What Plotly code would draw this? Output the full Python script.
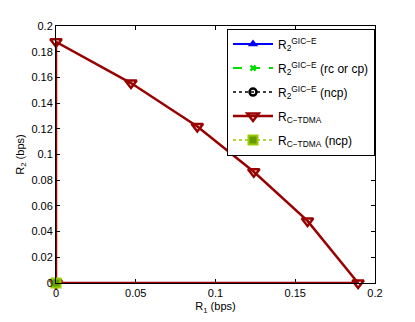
import plotly.graph_objects as go

# Data
tdma_r1 = [0.0, 0.0, 0.047, 0.0886, 0.124, 0.1577, 0.1894, 0.0]
tdma_r2 = [0.0, 0.1877, 0.1556, 0.1218, 0.0866, 0.0483, 0.0, 0.0]
gic_r1 = [0.0]
gic_r2 = [0.0]
x_ticks = [0, 0.05, 0.1, 0.15, 0.2]
x_labels = ["0", "0.05", "0.1", "0.15", "0.2"]
y_ticks = [0, 0.02, 0.04, 0.06, 0.08, 0.1, 0.12, 0.14, 0.16, 0.18, 0.2]
y_labels = ["0", "0.02", "0.04", "0.06", "0.08", "0.1", "0.12", "0.14", "0.16", "0.18", "0.2"]

red = "#990000"
fig = go.Figure()
fig.add_trace(go.Scatter(x=gic_r1, y=gic_r2, mode="lines+markers", legendgroup="a",
                         name="R<sub>2</sub><sup>GIC−E</sup>", cliponaxis=False,
                         line=dict(color="#0000ff", width=2),
                         marker=dict(symbol="triangle-up", size=9, color="#0000ff")))
fig.add_trace(go.Scatter(x=gic_r1, y=gic_r2, mode="lines+markers", legendgroup="b",
                         name="R<sub>2</sub><sup>GIC−E</sup> (rc or cp)", cliponaxis=False,
                         line=dict(color="#00dd00", width=2, dash="dash"),
                         marker=dict(symbol="x", size=6, color="#00dd00")))
fig.add_trace(go.Scatter(x=gic_r1, y=gic_r2, mode="lines+markers", legendgroup="c",
                         name="R<sub>2</sub><sup>GIC−E</sup> (ncp)", cliponaxis=False,
                         line=dict(color="black", width=1.5, dash="dot"),
                         marker=dict(symbol="circle-open", size=7, color="black", line=dict(width=2.5))))
fig.add_trace(go.Scatter(x=tdma_r1, y=tdma_r2, mode="lines+markers", legendgroup="d",
                         name="R<sub>C−TDMA</sub>", cliponaxis=False,
                         line=dict(color=red, width=2.5),
                         marker=dict(symbol="triangle-down-open", size=10, color=red, line=dict(width=2.5))))
fig.add_trace(go.Scatter(x=gic_r1, y=gic_r2, mode="lines+markers", legendgroup="e",
                         name="R<sub>C−TDMA</sub> (ncp)", cliponaxis=False,
                         line=dict(color="#99cc00", width=1.5, dash="dot"),
                         marker=dict(symbol="square", size=9, color="#669900",
                                     line=dict(color="#99cc00", width=2))))

axis_common = dict(showline=True, linecolor="black", linewidth=1, mirror="ticks",
                   ticks="inside", ticklen=4, tickcolor="black", showgrid=False,
                   zeroline=False, tickfont=dict(size=11, color="black"))
fig.update_xaxes(range=[0, 0.2], tickvals=x_ticks, ticktext=x_labels,
                 title=dict(text="R<sub>1</sub> (bps)", font=dict(size=11), standoff=4),
                 **axis_common)
fig.update_yaxes(range=[0, 0.2], tickvals=y_ticks, ticktext=y_labels,
                 title=dict(text="R<sub>2</sub> (bps)", font=dict(size=11), standoff=4),
                 **axis_common)
fig.update_layout(width=415, height=322, plot_bgcolor="white", paper_bgcolor="white",
                  margin=dict(l=46, r=48, t=14, b=47),
                  font=dict(family="Liberation Sans, Arial", size=11, color="black"),
                  legend=dict(x=1.0, y=0.99, xanchor="right", yanchor="top",
                              bgcolor="white", bordercolor="black", borderwidth=1,
                              font=dict(size=12), itemwidth=40, tracegroupgap=5))
fig.write_html("out.html")
